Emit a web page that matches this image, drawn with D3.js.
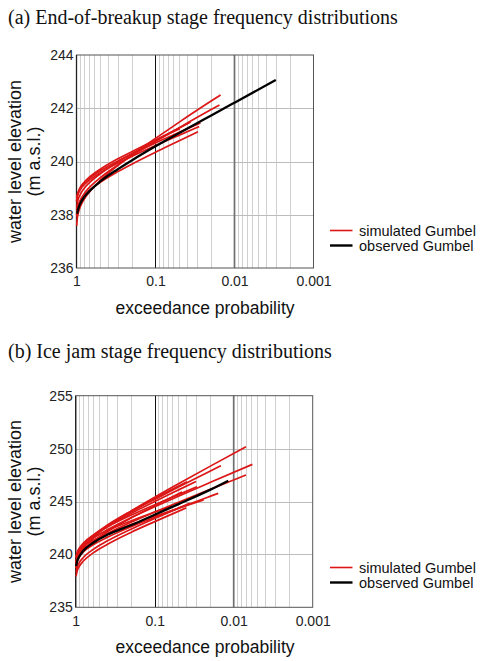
<!DOCTYPE html>
<html><head><meta charset="utf-8">
<script src="https://cdn.jsdelivr.net/npm/d3@7"></script>
<style>body{margin:0;background:#fff}svg{display:block}</style>
</head><body><svg id="c" width="488" height="661"></svg>
<script>
// ---------- DATA ----------
const xTickValues = [1, 0.1, 0.01, 0.001];
const xTickLabels = ["1", "0.1", "0.01", "0.001"];
const yTicksA = [236, 238, 240, 242, 244];
const yTicksB = [235, 240, 245, 250, 255];
const legendLabels = ["simulated Gumbel", "observed Gumbel"];
const titleA = "(a) End-of-breakup stage frequency distributions";
const titleB = "(b) Ice jam stage frequency distributions";

// panel (a): [exceedance probability, water level]
const observedA = [[0.98,238.04],[0.95,238.22],[0.9,238.41],[0.8,238.66],[0.7,238.86],[0.5,239.25],[0.3,239.71],[0.2,240.04],[0.1,240.57],[0.05,241.07],[0.02,241.72],[0.01,242.21],[0.003,243.06]];
const simulatedA = [
  [[0.995,237.58],[0.98,237.83],[0.95,238.06],[0.9,238.28],[0.8,238.58],[0.7,238.82],[0.5,239.29],[0.3,239.85],[0.2,240.24],[0.1,240.87],[0.05,241.48],[0.02,242.26],[0.015,242.50]],
  [[0.995,237.93],[0.98,238.15],[0.95,238.34],[0.9,238.53],[0.8,238.79],[0.7,239.00],[0.5,239.39],[0.3,239.87],[0.2,240.21],[0.1,240.75],[0.05,241.27],[0.02,241.94],[0.0155,242.12]],
  [[0.995,238.49],[0.98,238.65],[0.95,238.79],[0.9,238.93],[0.8,239.13],[0.7,239.28],[0.5,239.58],[0.3,239.94],[0.2,240.19],[0.1,240.60],[0.05,240.99],[0.028,241.31]],
  [[0.995,238.00],[0.98,238.18],[0.95,238.34],[0.9,238.50],[0.8,238.71],[0.7,238.89],[0.5,239.22],[0.3,239.62],[0.2,239.90],[0.1,240.35],[0.05,240.78],[0.029,241.12]],
  [[0.995,238.53],[0.98,238.71],[0.95,238.86],[0.9,239.02],[0.8,239.22],[0.7,239.39],[0.5,239.71],[0.3,240.10],[0.2,240.37],[0.1,240.81],[0.049,241.23]],
  [[0.995,238.52],[0.98,238.69],[0.95,238.84],[0.9,238.99],[0.8,239.19],[0.7,239.35],[0.5,239.65],[0.3,240.02],[0.2,240.28],[0.1,240.70],[0.05,241.10],[0.027,241.45]],
  [[0.995,238.20],[0.98,238.40],[0.95,238.58],[0.9,238.75],[0.8,238.99],[0.7,239.18],[0.5,239.54],[0.3,239.98],[0.2,240.29],[0.1,240.79],[0.05,241.26],[0.036,241.48]]
];

// panel (b)
const observedB = [[0.99,238.9],[0.95,239.45],[0.9,239.8],[0.8,240.35],[0.6,241.1],[0.4,241.85],[0.2,242.75],[0.1,243.75],[0.05,244.75],[0.02,246.1],[0.0117,246.97]];
const simulatedB = [
  [[0.99,238.73],[0.95,239.49],[0.9,239.96],[0.8,240.59],[0.6,241.58],[0.4,242.62],[0.2,244.08],[0.1,245.40],[0.05,246.67],[0.02,248.32],[0.007,250.18]],
  [[0.99,239.28],[0.95,239.87],[0.9,240.24],[0.8,240.73],[0.6,241.51],[0.4,242.32],[0.2,243.47],[0.1,244.50],[0.05,245.50],[0.02,246.79],[0.0058,248.51]],
  [[0.99,239.12],[0.95,239.67],[0.9,240.01],[0.8,240.48],[0.6,241.20],[0.4,241.96],[0.2,243.03],[0.1,244.00],[0.05,244.93],[0.02,246.13],[0.007,247.50]],
  [[0.99,239.12],[0.95,239.81],[0.9,240.24],[0.8,240.81],[0.6,241.72],[0.4,242.66],[0.2,244.00],[0.1,245.20],[0.05,246.36],[0.02,247.86],[0.0145,248.38]],
  [[0.99,238.98],[0.95,239.50],[0.9,239.81],[0.8,240.24],[0.6,240.91],[0.4,241.61],[0.2,242.61],[0.1,243.50],[0.05,244.37],[0.02,245.48],[0.0157,245.77]],
  [[0.99,239.19],[0.95,239.88],[0.9,240.31],[0.8,240.89],[0.6,241.80],[0.4,242.75],[0.2,244.09],[0.1,245.31],[0.039,246.87]],
  [[0.99,239.67],[0.95,240.24],[0.9,240.59],[0.8,241.07],[0.6,241.82],[0.4,242.59],[0.2,243.70],[0.1,244.69],[0.05,245.65],[0.029,246.40]],
  [[0.99,239.64],[0.95,240.09],[0.9,240.36],[0.8,240.74],[0.6,241.33],[0.4,241.95],[0.2,242.82],[0.1,243.60],[0.05,244.36],[0.024,245.14]],
  [[0.99,238.28],[0.95,238.87],[0.9,239.22],[0.8,239.71],[0.6,240.47],[0.4,241.26],[0.2,242.38],[0.1,243.40],[0.05,244.37],[0.036,244.83]],
  [[0.99,239.22],[0.95,239.88],[0.9,240.28],[0.8,240.83],[0.6,241.69],[0.4,242.59],[0.2,243.86],[0.1,245.00],[0.05,246.10],[0.03,246.90]],
  [[0.99,238.67],[0.95,239.35],[0.9,239.76],[0.8,240.32],[0.6,241.21],[0.4,242.13],[0.2,243.43],[0.1,244.60],[0.045,245.90]],
  [[0.99,239.75],[0.95,240.24],[0.9,240.53],[0.8,240.93],[0.6,241.57],[0.4,242.23],[0.2,243.16],[0.1,244.00],[0.06,244.60]],
  [[0.99,237.93],[0.95,238.52],[0.9,238.88],[0.8,239.37],[0.6,240.14],[0.4,240.94],[0.2,242.08],[0.1,243.10],[0.04,244.40]]
];

// ---------- DRAW ----------
const svg = d3.select("#c");
const SANS = "'Liberation Sans', Arial, sans-serif";
const SERIF = "'Liberation Serif', 'Times New Roman', serif";
const RED = "#dc1616";
const crisp = v => Math.round(v) + 0.5;

function drawPanel(cfg) {
  const x = d3.scaleLog().domain([1, 0.001]).range([cfg.left, cfg.right]);
  const y = d3.scaleLinear().domain([cfg.yTicks[0], cfg.yTicks[cfg.yTicks.length - 1]]).range([cfg.bottom, cfg.top]);
  const g = svg.append("g");

  svg.append("text").attr("x", 8).attr("y", cfg.titleY)
    .attr("font-family", SERIF).attr("font-size", 20).attr("fill", "#111").text(cfg.title);

  // minor vertical grid
  const minor = x.ticks().filter(v => { const l = Math.log10(v); return Math.abs(l - Math.round(l)) > 1e-6; });
  g.selectAll("line.minor").data(minor).join("line")
    .attr("x1", d => crisp(x(d))).attr("x2", d => crisp(x(d)))
    .attr("y1", cfg.top).attr("y2", cfg.bottom)
    .attr("stroke", "#d0d0d0").attr("stroke-width", 1);

  // horizontal grid
  g.selectAll("line.hg").data(cfg.yTicks.slice(1, -1)).join("line")
    .attr("x1", cfg.left).attr("x2", cfg.right)
    .attr("y1", d => crisp(y(d))).attr("y2", d => crisp(y(d)))
    .attr("stroke", "#bcbcbc").attr("stroke-width", 1);

  // decade lines
  g.append("line").attr("x1", crisp(x(0.1))).attr("x2", crisp(x(0.1)))
    .attr("y1", cfg.top).attr("y2", cfg.bottom).attr("stroke", "#111").attr("stroke-width", 1);
  g.append("line").attr("x1", x(0.01)).attr("x2", x(0.01))
    .attr("y1", cfg.top).attr("y2", cfg.bottom).attr("stroke", "#707070").attr("stroke-width", 1.7);

  // frame
  g.append("rect").attr("x", cfg.left).attr("y", cfg.top)
    .attr("width", cfg.right - cfg.left).attr("height", cfg.bottom - cfg.top)
    .attr("fill", "none").attr("stroke", "#555").attr("stroke-width", 1);
  g.append("line").attr("x1", cfg.left).attr("x2", cfg.left).attr("y1", cfg.top).attr("y2", cfg.bottom)
    .attr("stroke", "#222").attr("stroke-width", 1.3);

  // curves
  const line = d3.line().x(d => x(d[0])).y(d => y(d[1])).curve(d3.curveMonotoneX);
  g.selectAll("path.sim").data(cfg.sims).join("path")
    .attr("d", line).attr("fill", "none").attr("stroke", RED).attr("stroke-width", 1.7);
  g.append("path").datum(cfg.obs).attr("d", line)
    .attr("fill", "none").attr("stroke", "#000").attr("stroke-width", 2.3);

  // axes
  const ya = g.append("g").attr("transform", `translate(${cfg.left},0)`)
    .call(d3.axisLeft(y).tickValues(cfg.yTicks).tickSize(0).tickPadding(3).tickFormat(d3.format("d")));
  ya.select(".domain").remove();
  ya.selectAll("text").attr("font-family", SANS).attr("font-size", 14).attr("fill", "#222");

  const xa = g.append("g").attr("transform", `translate(0,${cfg.bottom})`)
    .call(d3.axisBottom(x).tickValues(xTickValues).tickSize(0).tickPadding(8.5)
      .tickFormat((d, i) => xTickLabels[i]));
  xa.select(".domain").remove();
  xa.selectAll("text").attr("font-family", SANS).attr("font-size", 14).attr("fill", "#222");

  // axis titles
  svg.append("text").attr("x", 205).attr("y", cfg.bottom + 45.5).attr("text-anchor", "middle")
    .attr("font-family", SANS).attr("font-size", 17.5).attr("fill", "#111").text("exceedance probability");
  const cy = (cfg.top + cfg.bottom) / 2;
  svg.append("text").attr("transform", `translate(21,${cy}) rotate(-90)`).attr("text-anchor", "middle")
    .attr("font-family", SANS).attr("font-size", 18).attr("fill", "#111").text("water level elevation");
  svg.append("text").attr("transform", `translate(40,${cy}) rotate(-90)`).attr("text-anchor", "middle")
    .attr("font-family", SANS).attr("font-size", 18).attr("fill", "#111").text("(m a.s.l.)");

  // legend
  const lg = svg.append("g");
  const colors = [RED, "#000"];
  const widths = [1.6, 2.4];
  legendLabels.forEach((lab, i) => {
    const ly = cfg.legendY + i * 15;
    lg.append("line").attr("x1", 330).attr("x2", 352.5).attr("y1", ly).attr("y2", ly)
      .attr("stroke", colors[i]).attr("stroke-width", widths[i]);
    lg.append("text").attr("x", 359).attr("y", ly + 5).attr("font-family", SANS)
      .attr("font-size", 14.5).attr("fill", "#111").text(lab);
  });
}

drawPanel({title: titleA, titleY: 24, left: 76.5, right: 313.5, top: 55, bottom: 268,
  yTicks: yTicksA, sims: simulatedA, obs: observedA, legendY: 230.5});
drawPanel({title: titleB, titleY: 358, left: 75.7, right: 312.7, top: 395.7, bottom: 607.3,
  yTicks: yTicksB, sims: simulatedB, obs: observedB, legendY: 567.5});
</script></body></html>
